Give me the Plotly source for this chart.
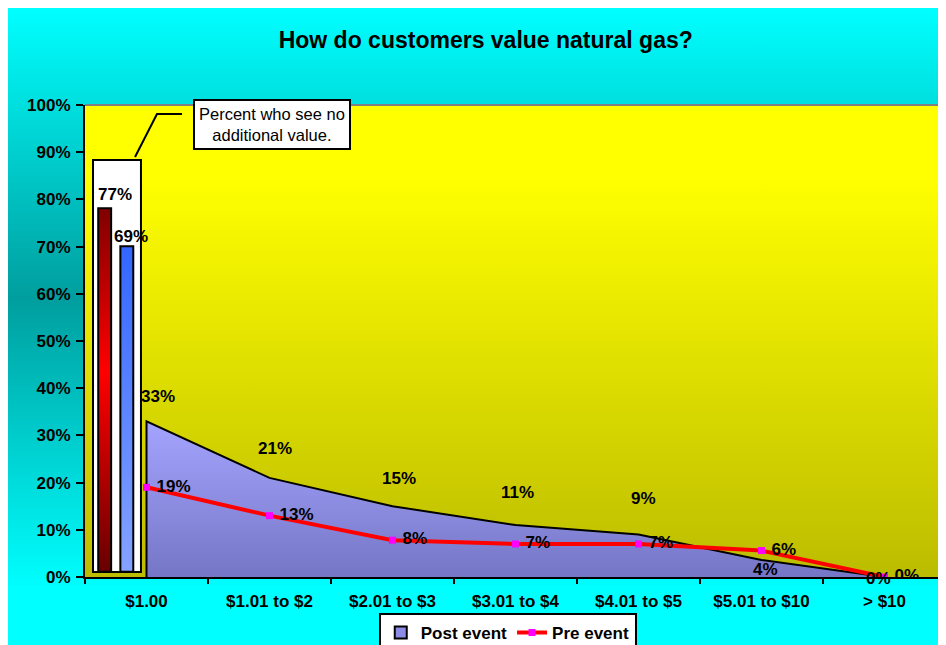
import base64
import plotly.graph_objects as go

categories = ["$1.00", "$1.01 to $2", "$2.01 to $3", "$3.01 to $4",
              "$4.01 to $5", "$5.01 to $10", "> $10"]
post_event = [0.33, 0.21, 0.15, 0.11, 0.09, 0.036, 0.0]
pre_event = [0.19, 0.13, 0.078, 0.07, 0.07, 0.056, 0.0]
no_value = [0.77, 0.69]  # percent who see no additional value

FONT = "Liberation Sans, Arial, sans-serif"
xs = list(range(len(categories)))


def svg_gradient(stops, w, h):
    st = "".join(f'<stop offset="{o}" stop-color="{c}"/>' for o, c in stops)
    svg = (f'<svg xmlns="http://www.w3.org/2000/svg" width="{w}" height="{h}" '
           f'viewBox="0 0 {w} {h}" preserveAspectRatio="none">'
           f'<defs><linearGradient id="g" x1="0" y1="0" x2="0" y2="1">{st}'
           f'</linearGradient></defs><rect width="{w}" height="{h}" fill="url(#g)"/></svg>')
    return "data:image/svg+xml;base64," + base64.b64encode(svg.encode()).decode()


fig = go.Figure()

# Post event area (closed polygon so the left edge gets its outline)
fig.add_trace(go.Scatter(
    x=[xs[0]] + xs + [xs[-1]], y=[0] + post_event + [0],
    mode="lines", fill="toself", name="Post event", legendgroup="post",
    showlegend=False,
    line=dict(color="black", width=2), fillcolor="#8c8ce6",
    fillgradient=dict(type="vertical", colorscale=[[0, "#7676c6"], [1, "#a4a4ff"]]),
))
# legend entry for the area (filled box with outline)
fig.add_trace(go.Bar(
    x=[None], y=[None], name="Post event", legendgroup="post",
    marker=dict(color="#8c8ce6", line=dict(color="black", width=2)),
))

# Pre event line
fig.add_trace(go.Scatter(
    x=xs, y=pre_event, mode="lines+markers+text", name="Pre event",
    line=dict(color="#ff0000", width=4),
    marker=dict(symbol="square", size=7, color="#ff00ff"),
    texttemplate=" %{y:.0%}", textposition="middle right",
    textfont=dict(family=FONT, size=17, color="black", weight="bold"),
))

# bars for "no additional value" drawn inside the first category
bar_pos = [-0.34, -0.16]
bar_w = 0.105
base = 0.011
bar_scales = [[[0, "#680000"], [0.55, "#ff0000"], [1, "#800000"]],
              [[0, "#85a3ff"], [1, "#3366ff"]]]
for c, v, cs in zip(bar_pos, no_value, bar_scales):
    top = base + v
    fig.add_trace(go.Scatter(
        x=[c - bar_w / 2, c - bar_w / 2, c + bar_w / 2, c + bar_w / 2, c - bar_w / 2],
        y=[base, top, top, base, base], mode="lines", fill="toself",
        line=dict(color="black", width=2), showlegend=False,
        fillgradient=dict(type="vertical", colorscale=cs),
    ))

annotations = []
bar_label_shift = [(10, 2), (4, -2)]
for c, v, (dx, dy) in zip(bar_pos, no_value, bar_label_shift):
    annotations.append(dict(x=c, y=base + v, text=f"{v:.0%}", showarrow=False,
                            xshift=dx, yshift=dy, yanchor="bottom",
                            font=dict(family=FONT, size=17, color="black", weight="bold")))

post_label_shift = [(11, 25), (5, 29), (6, 28), (2, 33), (5, 36), (4, -9), (-6, -1)]
for x, v, (dx, dy) in zip(xs, post_event, post_label_shift):
    annotations.append(dict(x=x, y=v, text=f"{v:.0%}", showarrow=False,
                            xshift=dx, yshift=dy,
                            font=dict(family=FONT, size=17, color="black", weight="bold")))

annotations.append(dict(
    x=0.2172, y=0.9597, xref="paper", yref="paper", showarrow=False,
    xanchor="center", yanchor="middle",
    text="Percent who see no<br>additional value.", align="center",
    font=dict(family=FONT, size=16.5, color="black"),
    bgcolor="white", bordercolor="black", borderwidth=2, borderpad=4,
))

shapes = [
    dict(type="rect", xref="paper", yref="paper", x0=0.0093, x1=0.065, y0=0.0106, y1=0.8835,
         fillcolor="white", line=dict(color="black", width=2), layer="below"),
    dict(type="path", xref="paper", yref="paper",
         path="M 0.0581,0.8898 L 0.0836,0.9809 L 0.1127,0.9809",
         line=dict(color="black", width=2)),
    dict(type="line", xref="paper", yref="paper", x0=0, x1=1, y0=1, y1=1,
         line=dict(color="#808080", width=2)),
]

images = [
    dict(source=svg_gradient([(0, "#00ffff"), (0.45, "#009e9e"), (0.9, "#00ffff"), (1, "#00ffff")], 946, 645),
         xref="paper", yref="paper", x=-77 / 861, y=1 + 97 / 472, sizex=946 / 861, sizey=645 / 472,
         xanchor="left", yanchor="top", sizing="stretch", layer="below"),
    dict(source=svg_gradient([(0, "#ffff00"), (0.15, "#ffff00"), (1, "#bcbc00")], 861, 472),
         xref="paper", yref="paper", x=0, y=1, sizex=1, sizey=1,
         xanchor="left", yanchor="top", sizing="stretch", layer="below"),
]

fig.update_layout(
    width=946, height=645,
    margin=dict(l=77, r=8, t=97, b=76),
    paper_bgcolor="#00ffff", plot_bgcolor="rgba(0,0,0,0)",
    title=dict(text="How do customers value natural gas?", x=0.505, xanchor="center",
               y=0.950, yanchor="middle",
               font=dict(family=FONT, size=23, color="black", weight="bold")),
    xaxis=dict(range=[-0.5, 6.5], tickmode="array", tickvals=xs, ticktext=categories,
               ticks="", showgrid=False, zeroline=False, showline=True, automargin=False,
               linecolor="black", linewidth=2, ticklabelstandoff=8,
               tickfont=dict(family=FONT, size=17, color="black", weight="bold"),
               minor=dict(tickmode="array", tickvals=[i - 0.5 for i in range(len(categories) + 1)],
                          ticks="outside", ticklen=5, tickwidth=2, tickcolor="black")),
    yaxis=dict(range=[0, 1], tickformat=".0%", dtick=0.1, ticks="outside", ticklen=7,
               tickwidth=2, tickcolor="black", showgrid=False, zeroline=False, automargin=False,
               showline=True, linecolor="black", linewidth=2, ticklabelstandoff=2,
               tickfont=dict(family=FONT, size=17, color="black", weight="bold")),
    legend=dict(orientation="h", x=0.491, xanchor="center", y=0.062, yref="container",
                yanchor="top", itemwidth=30, traceorder="normal",
                bgcolor="white", bordercolor="black", borderwidth=2,
                font=dict(family=FONT, size=17, color="black", weight="bold")),
    annotations=annotations, shapes=shapes, images=images,
    hovermode=False,
)

fig.write_html("out.html")
